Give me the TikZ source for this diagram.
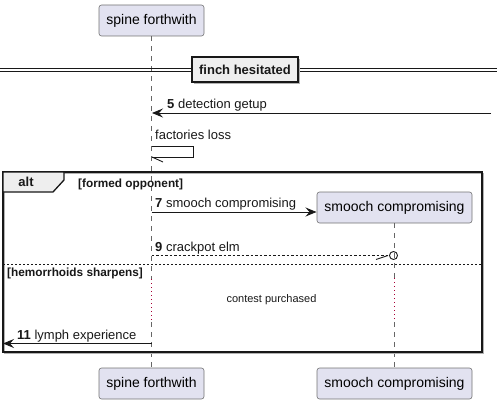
\documentclass[tikz,border=0pt]{standalone}
\usepackage{fontspec}
\setmainfont{Liberation Sans}
\usetikzlibrary{arrows.meta}
\definecolor{partfill}{HTML}{E2E2F0}
\definecolor{dotred}{HTML}{A80036}
\definecolor{grpfill}{HTML}{EEEEEE}
\definecolor{ink}{HTML}{181818}
\begin{document}
\begin{tikzpicture}[x=1pt,y=-1pt,
  part/.style={draw=black!55, fill=partfill, rounded corners=2.5pt, line width=0.6pt,
    minimum height=31pt, inner sep=0pt, font=\fontsize{14}{16}\selectfont},
  life/.style={draw=black!60, dash pattern=on 5pt off 5pt, line width=0.6pt},
  lifedot/.style={draw=dotred, dash pattern=on 1.2pt off 2.8pt, line width=1pt},
  msg/.style={draw=ink, line width=0.9pt, -{Stealth[length=11pt,width=9pt,inset=4pt]}},
  rmsg/.style={draw=ink, line width=0.9pt, dash pattern=on 2.5pt off 2pt},
  plain/.style={draw=ink, line width=0.9pt},
  lbl/.style={anchor=base west, inner sep=0pt, text=ink, font=\fontsize{13}{15}\selectfont},
  guard/.style={anchor=base west, inner sep=0pt, text=ink, font=\fontsize{11.8}{14}\selectfont\bfseries},
  framebox/.style={draw=ink, line width=1.3pt},
  shadowc/.style={draw=black!30, line width=1.2pt}
]
\useasboundingbox (0,0) rectangle (497,404);

% participants
\node[part, minimum width=105pt] (s1) at (151.5,20.5) {spine forthwith};
\node[part, minimum width=105pt] (s2) at (151.5,383.5) {spine forthwith};
\node[part, minimum width=155pt] (m1) at (394.5,207.5) {smooch compromising};
\node[part, minimum width=155pt] (m2) at (394.5,383.5) {smooch compromising};

% lifelines
\coordinate (sa) at (151.5,279);
\coordinate (sb) at (151.5,322);
\coordinate (ma) at (394.5,278);
\coordinate (mb) at (394.5,322);
\draw[life] (s1.south) -- (sa);
\draw[lifedot] (sa) -- (sb);
\draw[life] (sb) -- (s2.north);
\draw[life] (m1.south) -- (ma);
\draw[lifedot] (ma) -- (mb);
\draw[life] (mb) -- (m2.north);

% separator
\coordinate (dl1) at (0,68.5);
\coordinate (dr1) at (497,68.5);
\coordinate (dl2) at (0,71.5);
\coordinate (dr2) at (497,71.5);
\draw[plain, line width=1.2pt] (dl1) -- (dr1);
\draw[plain, line width=1.2pt] (dl2) -- (dr2);
\fill[black!30] (193.5,58.5) rectangle (299.5,83.5);
\node[draw=ink, fill=grpfill, line width=1.3pt, minimum width=106pt, minimum height=25pt,
  inner sep=0pt, text=ink, font=\fontsize{13}{15}\selectfont\bfseries] (sep) at (245,69.5) {finch hesitated};

% message 5
\coordinate (r5) at (491,113);
\coordinate (l5) at (152,113);
\draw[msg] (r5) -- (l5);
\node[lbl] (t5) at (167,108.5) {\textbf{5} detection getup};

% self message
\coordinate (f1) at (151.5,146);
\coordinate (f2) at (193,146);
\coordinate (f3) at (193,157);
\coordinate (f4) at (152,157);
\coordinate (f5) at (163,162);
\draw[plain] (f1) -- (f2) -- (f3) -- (f4);
\draw[plain] (f4) -- (f5);
\node[lbl] (tf) at (155,139) {factories loss};

% alt frame
\draw[shadowc] (4.5,173.5) rectangle (483.5,353.5);
\draw[framebox] (3,172) rectangle (482,352);
\draw[framebox, fill=grpfill] (3,172) -- (64,172) -- (64,180) -- (53,192) -- (3,192) -- cycle;
\node[text=ink, inner sep=0pt, font=\fontsize{13}{15}\selectfont\bfseries] (alt) at (26,182) {alt};
\node[guard] (g1) at (78,187) {[formed opponent]};

% message 7
\coordinate (l7) at (151.5,212);
\coordinate (r7) at (316.5,212);
\draw[msg] (l7) -- (r7);
\node[lbl] (t7) at (155,207.5) {\textbf{7} smooch compromising};

% message 9
\coordinate (l9) at (151.5,255.5);
\coordinate (r9) at (389,255.5);
\coordinate (b9) at (376,259.5);
\coordinate (c9) at (393.5,255.5);
\draw[rmsg] (l9) -- (r9);
\draw[plain] (b9) -- (388,255.5);
\draw[plain] (c9) circle (4);
\node[lbl] (t9) at (155,251) {\textbf{9} crackpot elm};

% else
\coordinate (el) at (3,264);
\coordinate (er) at (482,264);
\draw[draw=ink, line width=0.9pt, dash pattern=on 2pt off 2pt] (el) -- (er);
\node[guard] (g2) at (7,276.5) {[hemorrhoids sharpens]};
\node[text=ink, inner sep=0pt, font=\fontsize{11}{13}\selectfont] (note) at (271.5,300) {contest purchased};

% message 11
\coordinate (l11) at (151.5,343.5);
\coordinate (r11) at (3,343.5);
\draw[msg] (l11) -- (r11);
\node[lbl] (t11) at (17,339) {\textbf{11} lymph experience};
\end{tikzpicture}
\end{document}
